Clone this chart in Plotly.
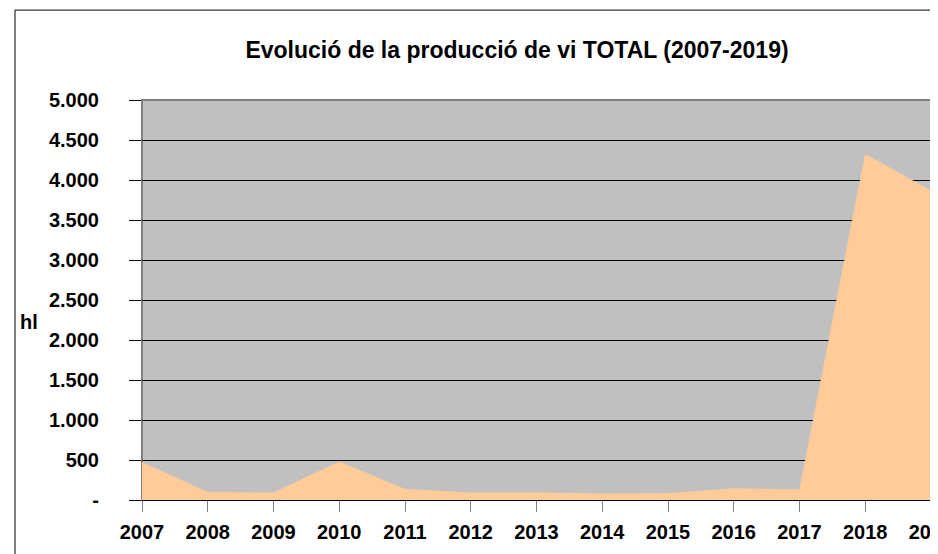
import plotly.graph_objects as go

years = [2007, 2008, 2009, 2010, 2011, 2012, 2013, 2014, 2015, 2016, 2017, 2018, 2019]
production_hl = [472, 97, 90, 477, 135, 90, 90, 77, 80, 143, 127, 4322, 3865]
y_tick_values = [0, 500, 1000, 1500, 2000, 2500, 3000, 3500, 4000, 4500, 5000]
y_tick_labels = ["-", "500", "1.000", "1.500", "2.000", "2.500", "3.000", "3.500", "4.000", "4.500", "5.000"]
title_text = "Evolució de la producció de vi TOTAL (2007-2019)"
y_title = "hl"

FONT = "Liberation Sans, Arial, sans-serif"
OFF = 8  # page body margin
W, H = 938 - OFF, 554 - OFF

fig = go.Figure()
fig.add_trace(go.Scatter(
    x=years, y=production_hl, mode="lines", fill="tozeroy",
    fillcolor="#FFCC99", line=dict(color="#FFCC99", width=0.5),
    hoverinfo="x+y", showlegend=False,
))

fig.update_layout(
    width=W, height=H,
    margin=dict(l=142 - OFF, r=938 - 931, t=100 - OFF, b=554 - 500.5, autoexpand=False),
    paper_bgcolor="white", plot_bgcolor="#C0C0C0",
    font=dict(family=FONT, color="black", size=20, weight="bold"),
    title=dict(text=title_text, x=(517 - OFF) / W, xanchor="center", xref="container",
               y=1 - (50 - OFF) / H, yref="container", yanchor="middle",
               font=dict(family=FONT, size=23, color="black", weight="bold")),
    xaxis=dict(range=[years[0], years[-1]], tickmode="array", tickvals=years,
               ticktext=[str(y) for y in years], showgrid=False, zeroline=False,
               ticks="outside", ticklen=11, tickcolor="#808080", tickwidth=1,
               showline=True, linecolor="black", linewidth=1, automargin=False,
               ticklabeloverflow="allow", ticklabelstandoff=3,
               tickfont=dict(family=FONT, size=20, color="black", weight="bold")),
    yaxis=dict(range=[0, 5000], tickmode="array", tickvals=y_tick_values,
               ticktext=y_tick_labels, showgrid=True, gridcolor="black", gridwidth=1,
               zeroline=False, ticks="outside", ticklen=12, tickcolor="black", tickwidth=1,
               showline=False, ticklabelstandoff=26, automargin=False,
               tickfont=dict(family=FONT, size=20, color="black", weight="bold")),
    shapes=[
        dict(type="rect", xref="paper", yref="paper", x0=0, x1=1, y0=0, y1=1,
             line=dict(color="#808080", width=2), fillcolor="rgba(0,0,0,0)", layer="between"),
        dict(type="rect", xref="paper", yref="paper", x0=(15 - 142) / 789, x1=1.2,
             y0=-0.3, y1=(500.5 - 10) / 400.5,
             line=dict(color="black", width=1), fillcolor="rgba(0,0,0,0)", layer="above"),
    ],
    annotations=[
        dict(text=y_title, xref="paper", yref="paper", x=(29 - 142) / 789, y=(500.5 - 322) / 400.5,
             xanchor="center", yanchor="middle", showarrow=False,
             font=dict(family=FONT, size=20, color="black", weight="bold")),
    ],
)

fig.write_html("out.html")
